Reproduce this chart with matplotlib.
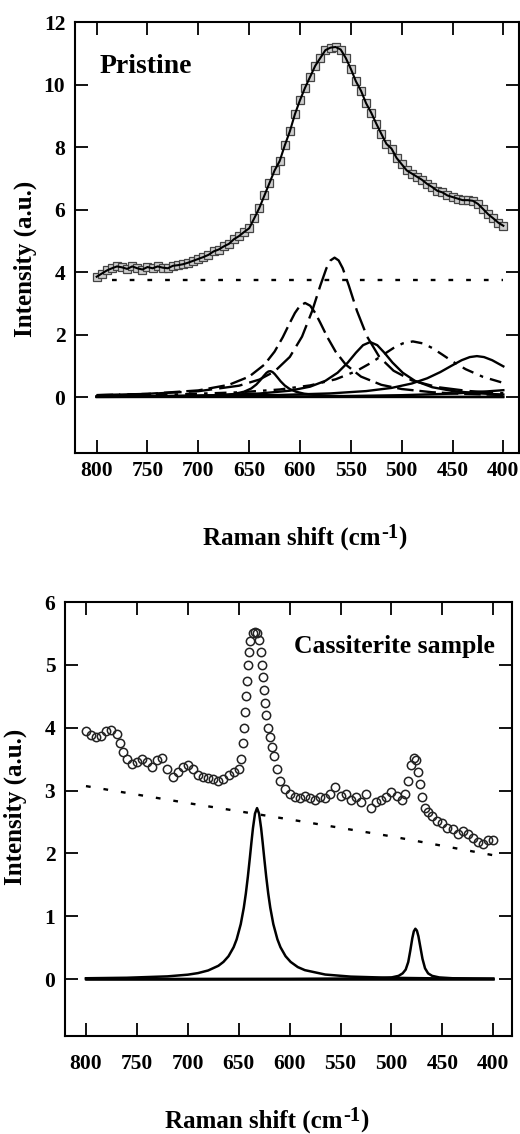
import matplotlib
matplotlib.use("Agg")
import matplotlib.pyplot as plt

plt.rcParams['font.family'] = ['Liberation Serif', 'DejaVu Serif']
plt.rcParams['font.weight'] = 'bold'

# ---------------- Pristine (top panel) ----------------
# measured spectrum (squares), read every 5 cm-1
pr_x = list(range(800, 395, -5))
pr_y = [3.85, 3.95, 4.05, 4.12, 4.18, 4.15, 4.10, 4.18, 4.12, 4.08,
        4.16, 4.12, 4.18, 4.14, 4.12, 4.20, 4.22, 4.25, 4.30, 4.36,
        4.42, 4.48, 4.55, 4.66, 4.72, 4.82, 4.90, 5.05, 5.15, 5.28,
        5.40, 5.72, 6.05, 6.45, 6.85, 7.25, 7.55, 8.05, 8.50, 9.05,
        9.50, 9.90, 10.25, 10.60, 10.85, 11.10, 11.18, 11.20, 11.12, 10.85,
        10.50, 10.10, 9.80, 9.40, 9.10, 8.75, 8.42, 8.10, 7.95, 7.65,
        7.45, 7.25, 7.15, 7.05, 6.95, 6.82, 6.72, 6.60, 6.55, 6.45,
        6.40, 6.35, 6.30, 6.30, 6.28, 6.18, 6.02, 5.85, 5.72, 5.58,
        5.48]

# background of the fit
pr_bg_x = [785, 400]
pr_bg_y = [3.75, 3.75]

# fitted components
pA_x = [800, 740, 700, 680, 665, 655, 648, 643, 639, 636, 633, 631, 629, 627,
        625, 622, 619, 615, 610, 604, 596, 585, 570, 550, 520, 480, 440, 400]
pA_y = [0.005, 0.011, 0.027, 0.052, 0.098, 0.171, 0.274, 0.40, 0.541, 0.664,
        0.774, 0.819, 0.829, 0.80, 0.741, 0.623, 0.502, 0.37, 0.255, 0.171,
        0.109, 0.065, 0.038, 0.022, 0.0115, 0.0062, 0.0039, 0.0027]

pB_x = [800, 750, 700, 670, 650, 635, 625, 617, 610, 605, 600, 595, 590, 585,
        580, 573, 565, 555, 540, 520, 500, 470, 440, 400]
pB_y = [0.059, 0.102, 0.213, 0.391, 0.654, 1.038, 1.454, 1.911, 2.374, 2.69,
        2.923, 3.01, 2.923, 2.69, 2.374, 1.911, 1.454, 1.038, 0.654, 0.391,
        0.257, 0.154, 0.102, 0.065]

pC_x = [800, 750, 700, 660, 640, 625, 610, 598, 588, 580, 574, 570, 566, 562,
        558, 552, 544, 534, 522, 508, 490, 465, 435, 400]
pC_y = [0.063, 0.101, 0.187, 0.363, 0.559, 0.82, 1.285, 1.934, 2.758, 3.568,
        4.123, 4.371, 4.46, 4.371, 4.123, 3.568, 2.758, 1.934, 1.285, 0.843,
        0.533, 0.318, 0.195, 0.124]

pD_x = [800, 740, 680, 640, 610, 590, 575, 563, 553, 545, 538, 531, 524, 517,
        509, 499, 487, 470, 450, 425, 400]
pD_y = [0.0195, 0.032, 0.062, 0.113, 0.203, 0.333, 0.52, 0.779, 1.103, 1.418,
        1.66, 1.76, 1.66, 1.418, 1.103, 0.779, 0.52, 0.315, 0.194, 0.119, 0.08]

pE_x = [800, 720, 660, 620, 590, 565, 545, 530, 518, 508, 499, 489, 479, 470,
        460, 449, 437, 420, 400]
pE_y = [0.048, 0.086, 0.151, 0.242, 0.373, 0.568, 0.824, 1.097, 1.358, 1.57,
        1.716, 1.78, 1.716, 1.57, 1.358, 1.118, 0.89, 0.645, 0.453]

pF_x = [800, 700, 620, 570, 535, 510, 490, 475, 462, 451, 441, 433, 426, 419,
        411, 400]
pF_y = [0.019, 0.034, 0.067, 0.117, 0.191, 0.292, 0.434, 0.599, 0.799, 1.001,
        1.179, 1.279, 1.31, 1.279, 1.179, 0.982]

pG_x = [800, 700, 600, 550, 500, 450, 425, 400]
pG_y = [0.005, 0.01, 0.02, 0.035, 0.06, 0.11, 0.16, 0.22]

# ---------------- Cassiterite (bottom panel) ----------------
cs_x = [800, 795, 790, 785, 780, 775, 770, 767, 764, 760, 755, 750, 745, 740,
        735, 730, 725, 720, 715, 710, 705, 700, 695, 690, 685, 680, 675, 670,
        665, 660, 655, 650, 648, 646, 645, 644, 643, 642, 641, 640, 638.5, 636,
        634, 632, 630, 628.5, 627.5, 626.5, 625.5, 624.5, 623, 621, 619, 617,
        615, 612, 609, 605, 600, 595, 590, 585, 580, 575, 570, 565, 560, 555,
        550, 545, 540, 535, 530, 525, 520, 515, 510, 505, 500, 495, 490, 487,
        484, 481, 478, 476, 474, 472, 470, 467, 464, 460, 455, 450, 445, 440,
        435, 430, 425, 420, 415, 410, 405, 400]
cs_y = [3.95, 3.88, 3.85, 3.87, 3.95, 3.97, 3.90, 3.75, 3.62, 3.50, 3.42, 3.45,
        3.50, 3.45, 3.38, 3.48, 3.52, 3.35, 3.22, 3.30, 3.38, 3.40, 3.35, 3.25,
        3.22, 3.20, 3.18, 3.15, 3.18, 3.25, 3.30, 3.35, 3.50, 3.75, 4.00, 4.25,
        4.50, 4.75, 5.00, 5.20, 5.38, 5.50, 5.52, 5.50, 5.40, 5.20, 5.00, 4.80,
        4.60, 4.40, 4.20, 4.00, 3.85, 3.70, 3.55, 3.35, 3.15, 3.02, 2.95, 2.90,
        2.88, 2.92, 2.88, 2.85, 2.90, 2.88, 2.95, 3.05, 2.92, 2.95, 2.85, 2.90,
        2.82, 2.95, 2.72, 2.82, 2.85, 2.90, 2.98, 2.92, 2.85, 2.95, 3.15, 3.40,
        3.52, 3.48, 3.30, 3.10, 2.90, 2.72, 2.65, 2.60, 2.52, 2.48, 2.40, 2.38,
        2.30, 2.35, 2.30, 2.25, 2.18, 2.15, 2.22, 2.22]

cs_bg_x = [800, 700, 600, 500, 400]
cs_bg_y = [3.07, 2.80, 2.54, 2.27, 1.97]

c1_x = [800, 760, 720, 700, 690, 680, 670, 665, 660, 655, 652, 648, 645, 643,
        641, 639, 637.5, 636, 634, 632, 630, 628, 626.5, 625, 623, 621, 619,
        616, 612, 609, 604, 599, 592, 585, 565, 540, 500, 460, 400]
c1_y = [0.012, 0.020, 0.042, 0.069, 0.094, 0.136, 0.21, 0.272, 0.363, 0.506,
        0.632, 0.873, 1.135, 1.36, 1.63, 1.936, 2.176, 2.402, 2.633, 2.72,
        2.633, 2.402, 2.176, 1.936, 1.63, 1.36, 1.135, 0.873, 0.632, 0.506,
        0.363, 0.272, 0.19, 0.141, 0.071, 0.038, 0.019, 0.011, 0.006]

c2_x = [800, 600, 540, 510, 500, 493, 489, 486, 483.5, 481.5, 479.5, 478, 476.5,
        475, 473.5, 471.5, 469.5, 467, 464, 460, 453, 440, 420, 400]
c2_y = [0.0, 0.003, 0.008, 0.015, 0.025, 0.05, 0.09, 0.15, 0.27, 0.45, 0.65,
        0.76, 0.80, 0.77, 0.68, 0.50, 0.32, 0.17, 0.09, 0.05, 0.025, 0.012,
        0.006, 0.004]

zero_x = [800, 400]
zero_y = [0, 0]

x_ticks = list(range(800, 399, -50))

W, H = 520, 1134


def style_axes(ax, xlim, ylim, yticks, xpad):
    ax.set_xlim(*xlim)
    ax.set_ylim(*ylim)
    ax.set_xticks(x_ticks)
    ax.set_yticks(yticks)
    ax.tick_params(axis='both', direction='in', length=9.5, width=1.3,
                   top=True, right=True, labelsize=15.5)
    ax.tick_params(axis='x', pad=xpad)
    ax.tick_params(axis='y', pad=7)
    for sp in ax.spines.values():
        sp.set_linewidth(1.5)


def raman_label(fig, cx, base):
    # "Raman shift (cm" + raised "-1" + ")" centred on cx (pixels)
    renderer = fig.canvas.get_renderer()
    parts = [('Raman shift (cm', 18, 0), ('-1', 15, 7), (')', 18, 0)]
    texts = []
    for s, size, rise in parts:
        t = fig.text(0, (H - base + rise) / H, s, fontsize=size,
                     fontweight='bold', ha='left', va='baseline')
        texts.append(t)
    widths = [t.get_window_extent(renderer).width for t in texts]
    x = cx - sum(widths) / 2
    for t, w in zip(texts, widths):
        t.set_x(x / W)
        x += w


fig = plt.figure(figsize=(5.2, 11.34), dpi=100)

# ----- top: pristine -----
ax1 = fig.add_axes([75 / W, 1 - 453 / H, 444 / W, 431 / H])
lw = 1.7
ax1.plot(zero_x, zero_y, color='k', lw=lw)
ax1.plot(pG_x, pG_y, color='k', lw=lw)
ax1.plot(pA_x, pA_y, color='k', lw=lw)
ax1.plot(pB_x, pB_y, color='k', lw=lw, dashes=(7, 2.5))
ax1.plot(pC_x, pC_y, color='k', lw=lw, dashes=(10, 3))
ax1.plot(pD_x, pD_y, color='k', lw=lw)
ax1.plot(pE_x, pE_y, color='k', lw=lw, dashes=(5, 3, 1.5, 3))
ax1.plot(pF_x, pF_y, color='k', lw=lw)
ax1.plot(pr_bg_x, pr_bg_y, color='k', lw=1.7, dashes=(2, 5.5))
ax1.plot(pr_x, pr_y, ls='none', marker='s', ms=6, mfc='#cdcdcd',
         mec='#444444', mew=0.9)
ax1.plot(pr_x, pr_y, color='k', lw=1.5)
style_axes(ax1, (821.3, 384.6), (-1.79, 12), [0, 2, 4, 6, 8, 10, 12], 6)
ax1.text(0.056, 0.882, 'Pristine', transform=ax1.transAxes, fontsize=20,
         fontweight='bold', ha='left', va='baseline')

# ----- bottom: cassiterite sample -----
ax2 = fig.add_axes([65 / W, 1 - 1036 / H, 447 / W, 434 / H])
ax2.plot(zero_x, zero_y, color='k', lw=1.8)
ax2.plot(c1_x, c1_y, color='k', lw=1.8)
ax2.plot(c2_x, c2_y, color='k', lw=1.8)
ax2.plot(cs_bg_x, cs_bg_y, color='k', lw=1.7, dashes=(2, 5.5))
ax2.plot(cs_x, cs_y, ls='none', marker='o', ms=6.0, mfc='none',
         mec='#222222', mew=1.1)
style_axes(ax2, (820.6, 381.6), (-0.907, 6), [0, 1, 2, 3, 4, 5, 6], 13)
ax2.text(0.962, 0.8825, 'Cassiterite sample', transform=ax2.transAxes,
         fontsize=18.5, fontweight='bold', ha='right', va='baseline')

# axis labels
raman_label(fig, 305, 545)
raman_label(fig, 267, 1128)
fig.text(25 / W, 1 - 259 / H, 'Intensity (a.u.)', fontsize=18,
         fontweight='bold', rotation=90, ha='center', va='center')
fig.text(15 / W, 1 - 807 / H, 'Intensity (a.u.)', fontsize=18,
         fontweight='bold', rotation=90, ha='center', va='center')

fig.savefig('out.png', dpi=100)
